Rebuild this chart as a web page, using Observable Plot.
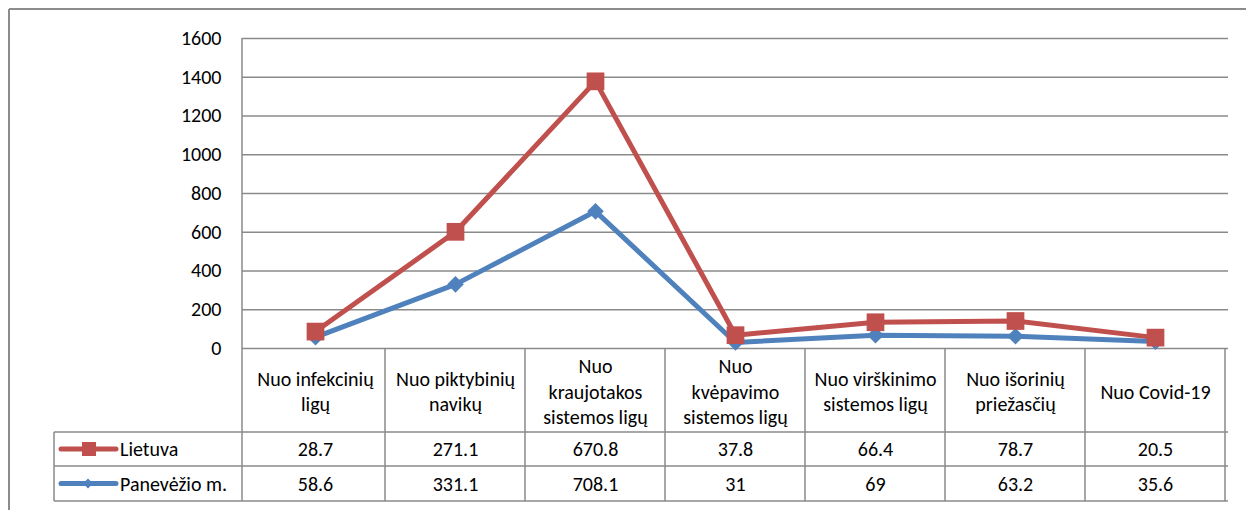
<!DOCTYPE html>
<html>
<head>
<meta charset="utf-8">
<script src="https://cdn.jsdelivr.net/npm/d3@7"></script>
<script src="https://cdn.jsdelivr.net/npm/@observablehq/plot@0.6"></script>
<style>
  body { margin: 0; background: #fff; }
  #chart { width: 1246px; height: 510px; }
</style>
</head>
<body>
<div id="chart"></div>
<script>
// ---- Data ----
const categories = [
  "Nuo infekcinių\nligų",
  "Nuo piktybinių\nnavikų",
  "Nuo\nkraujotakos\nsistemos ligų",
  "Nuo\nkvėpavimo\nsistemos ligų",
  "Nuo virškinimo\nsistemos ligų",
  "Nuo išorinių\npriežasčių",
  "Nuo Covid-19"
];
const seriesNames = ["Lietuva", "Panevėžio m."];
const lietuva   = [28.7, 271.1, 670.8, 37.8, 66.4, 78.7, 20.5];
const panevezys = [58.6, 331.1, 708.1, 31, 69, 63.2, 35.6];
const yTicks = [0, 200, 400, 600, 800, 1000, 1200, 1400, 1600];
const seriesColors = ["#C0504D", "#4F81BD"];

// The original is a stacked line chart: Lietuva is drawn on top of Panevėžio m.
const lietuvaStacked = lietuva.map((v, i) => v + panevezys[i]);

const FONT = "Carlito, Lato, 'Open Sans', sans-serif";
const FS = 20;
const GRID = "#8a8a8a";

function tableMark(index, scales, values, dims) {
  const x = scales.x;
  const bw = x.bandwidth ? x.bandwidth() : (dims.width - dims.marginLeft - dims.marginRight) / categories.length;
  const left = dims.marginLeft;
  const right = dims.width - dims.marginRight;
  const top = dims.marginTop;
  const base = dims.height - dims.marginBottom;
  const row1 = base + 84, row2 = base + 118, row3 = base + 153;
  const legLeft = 54;
  const g = d3.create("svg:g");
  const line = (x1, y1, x2, y2, c = GRID, w = 1.5) =>
    g.append("line").attr("x1", x1).attr("y1", y1).attr("x2", x2).attr("y2", y2)
     .attr("stroke", c).attr("stroke-width", w);
  // outer chart border (left and top)
  line(9, 9, dims.width, 9, "#8c8c8c", 2);
  line(9, 9, 9, dims.height, "#8c8c8c", 2);
  // left axis line through table
  line(left, top, left, row3);
  // column separators
  categories.forEach((c) => {
    const xe = x(c) + bw;
    line(xe, base, xe, row3);
  });
  // horizontal table lines
  line(legLeft, row1, right, row1);
  line(legLeft, row2, right, row2);
  line(legLeft, row3, right, row3);
  line(legLeft, row1, legLeft, row3);
  // legend keys
  const keyY = [(row1 + row2) / 2, (row2 + row3) / 2];
  seriesNames.forEach((s, i) => {
    const col = scales.color ? scales.color(s) : seriesColors[i];
    const y = keyY[i];
    g.append("line").attr("x1", 61).attr("x2", 116).attr("y1", y).attr("y2", y)
      .attr("stroke", col).attr("stroke-width", 5).attr("stroke-linecap", "round");
    if (i === 0) {
      g.append("rect").attr("x", 82).attr("y", y - 7).attr("width", 14).attr("height", 14).attr("fill", col);
    } else {
      g.append("path").attr("d", `M88,${y - 5}L93,${y}L88,${y + 5}L83,${y}Z`).attr("fill", col);
    }
    g.append("text").attr("x", 120).attr("y", y).attr("dy", "0.35em")
      .attr("text-anchor", "start")
      .attr("font-family", FONT).attr("font-size", FS).attr("fill", "#000").text(s);
  });
  return g.node();
}

const idx = d3.range(categories.length);

const chart = Plot.plot({
  width: 1246,
  height: 510,
  marginLeft: 242,
  marginRight: 18,
  marginTop: 38,
  marginBottom: 162,
  style: { fontFamily: FONT, fontSize: FS + "px", background: "#fff", color: "#000" },
  x: { type: "band", domain: categories, padding: 0, axis: null },
  y: { domain: [0, 1600], ticks: 8, tickSize: 0, tickPadding: 21, tickFormat: d3.format("d"), label: null },
  color: { domain: seriesNames, range: seriesColors },
  marks: [
    Plot.ruleY(yTicks, { stroke: GRID, strokeWidth: 1.5 }),
    tableMark,
    // Panevėžio m.
    Plot.lineY(idx, { x: i => categories[i], y: i => panevezys[i], stroke: seriesColors[1], strokeWidth: 5, strokeLinejoin: "miter" }),
    Plot.dot(idx, { x: i => categories[i], y: i => panevezys[i], symbol: "diamond2", r: 7.5, fill: seriesColors[1] }),
    // Lietuva (stacked)
    Plot.lineY(idx, { x: i => categories[i], y: i => lietuvaStacked[i], stroke: seriesColors[0], strokeWidth: 5, strokeLinejoin: "miter" }),
    Plot.dot(idx, { x: i => categories[i], y: i => lietuvaStacked[i], symbol: "square", r: 10, fill: seriesColors[0] }),
    // table header
    Plot.text(categories, { x: d => d, text: d => d, frameAnchor: "bottom", dy: 42, lineAnchor: "middle", lineHeight: 1.28, fontSize: FS, fill: "#000" }),
    // table values
    Plot.text(idx, { x: i => categories[i], text: i => String(lietuva[i]), frameAnchor: "bottom", dy: 101, lineAnchor: "middle", fontSize: FS, fill: "#000" }),
    Plot.text(idx, { x: i => categories[i], text: i => String(panevezys[i]), frameAnchor: "bottom", dy: 136, lineAnchor: "middle", fontSize: FS, fill: "#000" })
  ]
});
document.getElementById("chart").appendChild(chart);
</script>
</body>
</html>
